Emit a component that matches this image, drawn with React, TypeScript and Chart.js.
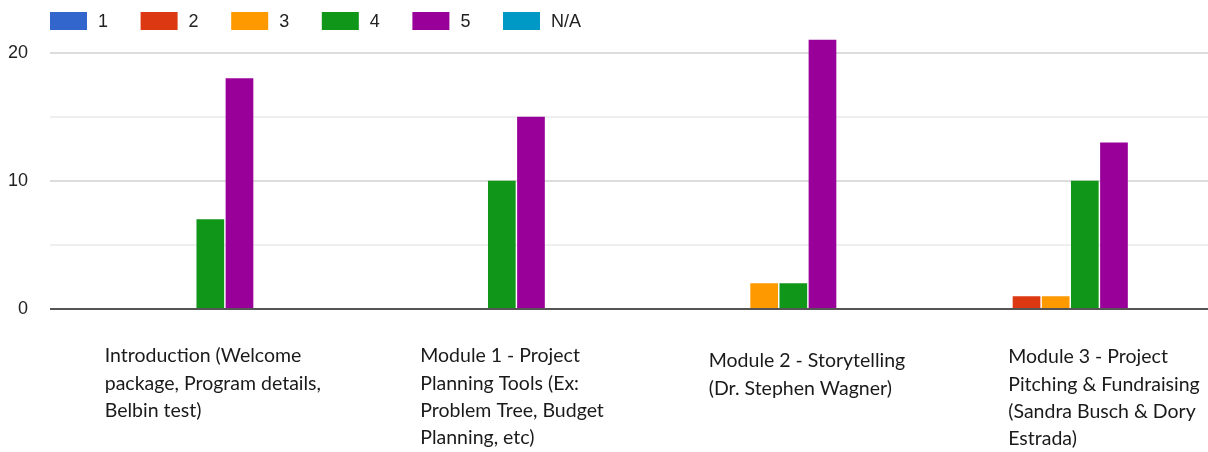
import React, { useEffect, useRef } from 'react';
import { Chart, registerables } from 'chart.js';

Chart.register(...registerables);

// ---- data ----
const categories: string[][] = [
  ['Introduction (Welcome', 'package, Program details,', 'Belbin test)'],
  ['Module 1 - Project', 'Planning Tools (Ex:', 'Problem Tree, Budget', 'Planning, etc)'],
  ['Module 2 - Storytelling', '(Dr. Stephen Wagner)'],
  ['Module 3 - Project', 'Pitching & Fundraising', '(Sandra Busch & Dory', 'Estrada)'],
];
const seriesNames = ['1', '2', '3', '4', '5', 'N/A'];
const rating1 = [0, 0, 0, 0];
const rating2 = [0, 0, 0, 1];
const rating3 = [0, 0, 2, 1];
const rating4 = [7, 10, 2, 10];
const rating5 = [18, 15, 21, 13];
const ratingNA = [0, 0, 0, 0];
const yGridValues = [0, 5, 10, 15, 20];
const yLabelValues = [0, 10, 20];

// ---- styles / layout ----
const colors = ['#3366cc', '#dc3912', '#ff9900', '#109618', '#990099', '#0099c6'];
const labelDx = [-91, -67, -70, -62];
const labelDy = [356, 356, 361, 357];
const labelLineHeight = 27.4;

const legendPlugin = {
  id: 'customLegend',
  afterDraw(chart: any) {
    const ctx = chart.ctx;
    ctx.save();
    ctx.font = '18px "Liberation Sans", Arial, sans-serif';
    ctx.textBaseline = 'middle';
    ctx.textAlign = 'left';
    chart.data.datasets.forEach((ds: any, i: number) => {
      const x = 50 + i * 90.6;
      ctx.fillStyle = ds.backgroundColor;
      ctx.fillRect(x, 12, 37, 18);
      ctx.fillStyle = '#222';
      ctx.fillText(ds.label, x + 48, 22);
    });
    ctx.restore();
  },
};

const xLabelPlugin = {
  id: 'xLabels',
  afterDraw(chart: any) {
    const ctx = chart.ctx;
    const xs = chart.scales.x;
    ctx.save();
    ctx.font = '19.5px Lato, "Noto Sans", sans-serif';
    ctx.textBaseline = 'middle';
    ctx.textAlign = 'left';
    ctx.fillStyle = '#1a1a1a';
    categories.forEach((lines, i) => {
      const cx = xs.getPixelForValue(i);
      lines.forEach((line, j) => {
        ctx.fillText(line, cx + labelDx[i], labelDy[i] + j * labelLineHeight);
      });
    });
    ctx.restore();
  },
};

export default function App() {
  const ref = useRef<HTMLCanvasElement | null>(null);
  useEffect(() => {
    if (!ref.current) return;
    const series = [rating1, rating2, rating3, rating4, rating5, ratingNA];
    const chart = new Chart(ref.current, {
      type: 'bar',
      data: {
        labels: categories.map((c) => c.join(' ')),
        datasets: series.map((d, i) => ({
          label: seriesNames[i],
          data: d,
          backgroundColor: colors[i],
          borderWidth: 0,
          categoryPercentage: 0.6,
          barPercentage: 0.95,
        })),
      },
      options: {
        animation: false,
        responsive: false,
        maintainAspectRatio: false,
        layout: { padding: { top: 20, left: 0, right: 0, bottom: 0 } },
        plugins: {
          legend: { display: false },
          tooltip: { enabled: false },
          title: { display: false },
        },
        scales: {
          x: {
            grid: { display: false },
            border: { display: false },
            ticks: { display: false },
            afterFit(scale: any) {
              scale.height = 452 - 309;
            },
          },
          y: {
            min: 0,
            max: 21.55,
            border: { display: false },
            afterBuildTicks(scale: any) {
              scale.ticks = yGridValues.map((v) => ({ value: v }));
            },
            afterFit(scale: any) {
              scale.width = 50;
            },
            grid: {
              drawTicks: false,
              color: (c: any) => {
                const v = c.tick ? c.tick.value : 0;
                if (v === 0) return '#555';
                return v % 10 === 0 ? '#dcdcdc' : '#efefef';
              },
              lineWidth: 2,
            },
            ticks: {
              padding: 22,
              color: '#222',
              font: { family: '"Liberation Sans", Arial, sans-serif', size: 18 },
              callback: (v: any) => (yLabelValues.includes(Number(v)) ? String(v) : ''),
            },
          },
        },
      },
      plugins: [legendPlugin, xLabelPlugin],
    });
    return () => chart.destroy();
  }, []);
  return (
    <div style={{ position: 'absolute', left: 0, top: 0, width: 1208, height: 452, overflow: 'hidden', background: '#fff' }}>
      <canvas ref={ref} width={1216} height={452} style={{ display: 'block', width: 1216, height: 452 }} />
    </div>
  );
}
